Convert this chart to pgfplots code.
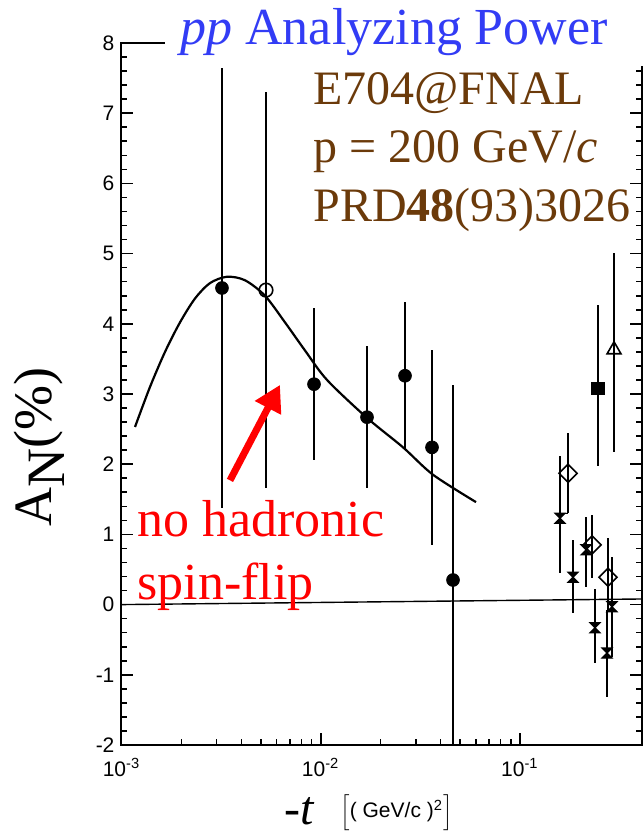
\documentclass[border=0pt]{standalone}
\usepackage{fontspec}
\setmainfont{Liberation Serif}
\setsansfont{Liberation Sans}
\usepackage{pgfplots}
\pgfplotsset{compat=1.18}
\usetikzlibrary{arrows.meta}

\definecolor{titleblue}{RGB}{50,60,245}
\definecolor{refbrown}{RGB}{107,58,10}

% bow-tie shaped marker used for the crossed points on the right
\pgfdeclareplotmark{hourglass}{%
  \pgfpathmoveto{\pgfqpoint{-\pgfplotmarksize}{\pgfplotmarksize}}%
  \pgfpathlineto{\pgfqpoint{\pgfplotmarksize}{\pgfplotmarksize}}%
  \pgfpathlineto{\pgfqpoint{-\pgfplotmarksize}{-\pgfplotmarksize}}%
  \pgfpathlineto{\pgfqpoint{\pgfplotmarksize}{-\pgfplotmarksize}}%
  \pgfpathclose
  \pgfusepathqfillstroke}

\begin{document}
\begin{tikzpicture}
  \begin{axis}[
      scale only axis,
      width=260.25pt, height=351pt,
      xmode=log,
      xmin=1e-3, xmax=0.41,
      ymin=-2, ymax=8,
      xtick={1e-3,1e-2,1e-1},
      xticklabels={10\textsuperscript{-3},10\textsuperscript{-2},10\textsuperscript{-1}},
      ytick={-2,-1,0,1,2,3,4,5,6,7,8},
      yticklabels={-2,-1,0,1,2,3,4,5,6,7,8},
      minor y tick num=4,
      tick align=inside,
      major tick length=6pt,
      minor tick length=3pt,
      tick style={black, line width=0.8pt},
      axis line style={line width=1pt},
      tick label style={font=\sffamily\fontsize{10.5}{12}\selectfont},
      xticklabel style={inner sep=0.5pt, yshift=-6pt},
      ebar/.style={only marks, black,
        error bars/y dir=both, error bars/y explicit,
        error bars/error mark=none,
        error bars/error bar style={line width=0.75pt}},
    ]
    % zero line (slightly tilted in the scan)
    \addplot[black, line width=0.7pt] coordinates {(1e-3,0) (0.41,0.08)};

    % model curve, no hadronic spin-flip
    \addplot[black, line width=1.1pt, smooth] coordinates {
      (0.001169,2.53) (0.001390,3.10) (0.001654,3.60) (0.001967,4.02)
      (0.002339,4.36) (0.002782,4.58) (0.003385,4.67) (0.004169,4.62)
      (0.005252,4.40) (0.006620,4.02) (0.008341,3.62) (0.01076,3.20)
      (0.01708,2.66) (0.02590,2.24) (0.03663,1.85) (0.06020,1.46)
    };

    % E704 filled circles
    \addplot[ebar, mark=*, mark size=3.2pt] coordinates {
      (0.003194,4.51) +- (0,3.13)
      (0.009256,3.14) +- (0,1.08)
      (0.01708,2.67) +- (0,1.01)
      (0.02650,3.26) +- (0,1.05)
      (0.03621,2.24) +- (0,1.39)
      (0.04615,0.35) +- (0,2.78)
    };
    % open circle
    \addplot[ebar, mark=o, mark size=3.4pt, mark options={fill=white, line width=0.8pt}]
      coordinates {(0.005313,4.48) +- (0,2.82)};

    % brackets joining points on the right
    \addplot[black, line width=0.75pt] coordinates {(0.1590,1.30) (0.1744,1.30)};
    \addplot[black, line width=0.75pt] coordinates {
      (0.2737,-0.08) (0.2900,-0.08) (0.2900,-0.74) (0.2737,-0.74) (0.2737,-0.08)};

    % filled square
    \addplot[ebar, mark=square*, mark size=3.1pt]
      coordinates {(0.2466,3.08) += (0,1.19) -= (0,1.10)};
    % open triangle
    \addplot[ebar, mark=triangle, mark size=4pt, mark options={fill=white, line width=0.8pt}]
      coordinates {(0.2968,3.63) += (0,1.38) -= (0,1.46)};
    % open diamonds
    \addplot[ebar, mark=square, mark size=3.2pt, mark options={rotate=45, fill=white, line width=0.8pt}]
      coordinates {
        (0.1744,1.87) += (0,0.58) -= (0,0.57)
        (0.2301,0.85) += (0,0.43) -= (0,0.47)
        (0.2769,0.39) += (0,0.56) -= (0,0.47)
      };
    % crossed points
    \addplot[ebar, mark=hourglass, mark size=2.5pt, mark options={fill=black, line width=0.6pt}]
      coordinates {
        (0.1590,1.23) += (0,0.89) -= (0,0.78)
        (0.1847,0.39) += (0,0.53) -= (0,0.51)
        (0.2147,0.78) += (0,0.47) -= (0,0.53)
        (0.2382,-0.33) += (0,0.55) -= (0,0.50)
        (0.2737,-0.69) += (0,0.62) -= (0,0.63)
        (0.2900,-0.03) += (0,0.71) -= (0,0.71)
      };

    \draw[red, line width=3.5pt, -{Triangle[length=13pt, width=14pt]}]
      (axis cs:0.003505,1.77) -- (axis cs:0.006248,3.13);
  \end{axis}

  % annotations, placed in pixel units of the 644x832 frame
  \begin{scope}[shift={(-60.75pt,372.5pt)}, x=0.5pt, y=-0.5pt]
    \fill[white] (165,0) rectangle (644,66);
    \node[anchor=base west, inner sep=0, text=titleblue,
      font=\fontsize{26}{31}\selectfont] at (180,45) {\textit{pp} Analyzing Power};
    \node[anchor=base west, inner sep=0, text=refbrown,
      font=\fontsize{24}{29}\selectfont] at (313,105) {E704@FNAL};
    \node[anchor=base west, inner sep=0, text=refbrown,
      font=\fontsize{24}{29}\selectfont] at (313,163) {p = 200 GeV/\textit{c}};
    \node[anchor=base west, inner sep=0, text=refbrown,
      font=\fontsize{24}{29}\selectfont] at (313,222) {PRD\textbf{48}(93)3026};
    \node[anchor=base west, inner sep=0, text=red,
      font=\fontsize{26}{31}\selectfont] at (137,537) {no hadronic};
    \node[anchor=base west, inner sep=0, text=red,
      font=\fontsize{26}{31}\selectfont] at (137,600) {spin-flip};
    \node[rotate=90, anchor=base, inner sep=0,
      font=\fontsize{27}{27}\selectfont] at (52,447) {A\raisebox{-0.24em}{N}(\%)};
    \node[anchor=base west, inner sep=0,
      font=\fontsize{24}{24}\selectfont] at (284,824) {-\textit{t}};
    \node[anchor=base west, inner sep=0,
      font=\sffamily\fontsize{10.5}{11}\selectfont] at (340,818)
      {$\Big[$( GeV/c )\textsuperscript{2}$\Big]$};
    \pgfresetboundingbox
    \path[use as bounding box] (0,0) rectangle (644,832);
  \end{scope}
\end{tikzpicture}
\end{document}
